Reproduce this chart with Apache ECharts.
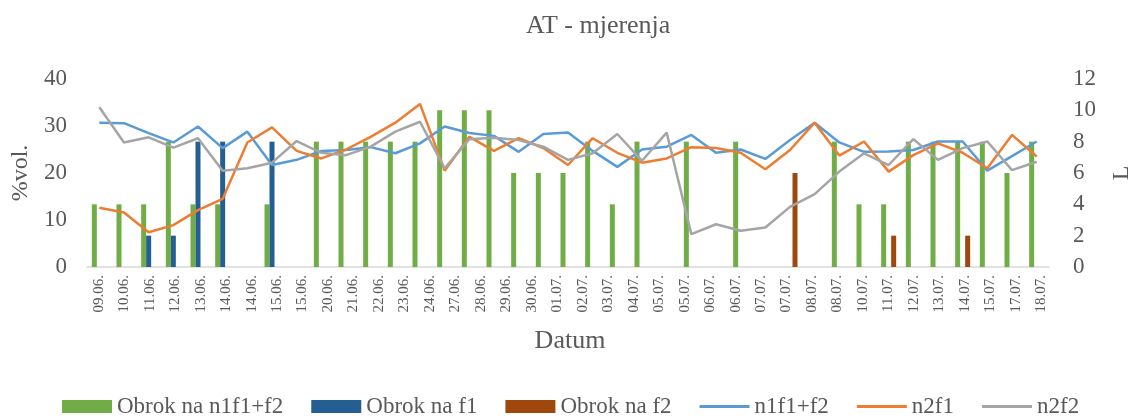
<!DOCTYPE html>
<html>
<head>
<meta charset="utf-8">
<title>AT - mjerenja</title>
<script src="https://cdn.jsdelivr.net/npm/echarts@6/dist/echarts.min.js"></script>
<style>
  html, body { margin: 0; padding: 0; background: #ffffff; }
  #chart { width: 1142px; height: 419px; }
</style>
</head>
<body>
<div id="chart"></div>
<script>
// tick labels printed under the axis (38 of them)
const dateLabels = [
  "09.06.", "10.06.", "11.06.", "12.06.", "13.06.", "14.06.", "14.06.", "15.06.", "15.06.",
  "20.06.", "21.06.", "22.06.", "23.06.", "24.06.", "27.06.", "28.06.", "29.06.", "30.06.",
  "01.07.", "02.07.", "03.07.", "04.07.", "05.07.", "05.07.", "06.07.", "06.07.", "07.07.",
  "07.07.", "08.07.", "08.07.", "10.07.", "11.07.", "12.07.", "13.07.", "14.07.", "15.07.",
  "17.07.", "18.07."
];

// measurement slots actually plotted (39 points)
const slots = [
  "1", "2", "3", "4", "5", "6", "7", "8", "9", "10", "11", "12", "13",
  "14", "15", "16", "17", "18", "19", "20", "21", "22", "23", "24", "25", "26",
  "27", "28", "29", "30", "31", "32", "33", "34", "35", "36", "37", "38", "39"
];

// bars, litres (right axis)
const obrokN1f1f2 = [4, 4, 4, 8, 4, 4, null, 4, null, 8, 8, 8, 8, 8, 10, 10, 10, 6, 6, 6,
  8, 4, 8, null, 8, null, 8, null, null, null, 8, 4, 4, 8, 8, 8, 8, 6, 8];
const obrokF1 = [null, null, 2, 2, 8, 8, null, 8, null, null, null, null, null, null, null, null, null, null, null, null,
  null, null, null, null, null, null, null, null, null, null, null, null, null, null, null, null, null, null, null];
const obrokF2 = [null, null, null, null, null, null, null, null, null, null, null, null, null, null, null, null, null, null, null, null,
  null, null, null, null, null, null, null, null, 6, null, null, null, 2, null, null, 2, null, null, null];

// lines, %vol. (left axis)
const n1f1f2 = [30.7, 30.6, 28.5, 26.5, 29.9, 25.3, 28.8, 21.7, 22.8, 24.7, 24.9, 25.5, 24.2,
  26.3, 29.9, 28.5, 27.9, 24.5, 28.3, 28.6, 24.7, 21.3, 25.0, 25.6, 28.1, 24.3,
  25.0, 23.0, 27.0, 30.7, 26.5, 24.5, 24.6, 24.9, 26.7, 26.7, 20.5, 23.6, 26.7];
const n2f1 = [12.6, 11.6, 7.4, 8.9, 12.1, 14.5, 26.5, 29.7, 24.7, 23.1, 25.0, 27.7, 30.7,
  34.7, 20.5, 27.7, 24.7, 27.4, 25.3, 21.7, 27.4, 24.3, 22.2, 23.1, 25.5, 25.3,
  24.3, 20.8, 24.9, 30.7, 23.7, 26.7, 20.3, 23.8, 26.3, 24.3, 21.0, 28.1, 23.5];
const n2f2 = [34.0, 26.5, 27.6, 25.4, 27.4, 20.5, 21.0, 22.2, 26.8, 24.3, 23.8, 25.6, 28.8,
  30.9, 21.0, 27.2, 27.5, 27.0, 25.6, 22.8, 24.2, 28.3, 22.6, 28.6, 7.0, 9.1,
  7.7, 8.4, 12.8, 15.5, 20.3, 24.2, 21.7, 27.2, 22.8, 25.3, 26.7, 20.6, 22.4];

const font = "Liberation Serif";
const textGrey = "#595959";
// thin bar used as legend icon for the line series
const lineIcon = "path://M0,0L50,0L50,3L0,3Z";

const chart = echarts.init(document.getElementById("chart"));

function barSeries(name, data, color) {
  return {
    name: name,
    type: "bar",
    xAxisIndex: 0,
    yAxisIndex: 1,
    barWidth: 5,
    barGap: "0%",
    itemStyle: { color: color },
    data: data
  };
}

function lineSeries(name, data, color) {
  return {
    name: name,
    type: "line",
    xAxisIndex: 0,
    yAxisIndex: 0,
    symbol: "none",
    lineStyle: { color: color, width: 2.5 },
    itemStyle: { color: color },
    data: data
  };
}

chart.setOption({
  animation: false,
  title: {
    text: "AT - mjerenja",
    left: 521,
    top: 8,
    textStyle: { fontFamily: font, fontSize: 26, fontWeight: "normal", color: textGrey }
  },
  legend: {
    left: 57,
    top: 390,
    itemWidth: 50,
    itemHeight: 13,
    itemGap: 28,
    symbolKeepAspect: true,
    textStyle: { fontFamily: font, fontSize: 23, color: textGrey },
    data: [
      { name: "Obrok na n1f1+f2", icon: "rect" },
      { name: "Obrok na f1", icon: "rect" },
      { name: "Obrok na f2", icon: "rect" },
      { name: "n1f1+f2", icon: lineIcon },
      { name: "n2f1", icon: lineIcon },
      { name: "n2f2", icon: lineIcon }
    ]
  },
  grid: [
    { left: 87, right: 83, top: 79, bottom: 152 },
    { left: 86, right: 88, top: 79, bottom: 152 }
  ],
  xAxis: [
    {
      type: "category",
      gridIndex: 0,
      data: slots,
      axisLine: { lineStyle: { color: "#d9d9d9", width: 1.5 } },
      axisTick: { show: false },
      axisLabel: { show: false }
    },
    {
      type: "category",
      gridIndex: 1,
      data: dateLabels,
      axisLine: { show: false },
      axisTick: { show: false },
      axisLabel: {
        rotate: 90,
        margin: 8,
        fontFamily: font,
        fontSize: 15,
        color: textGrey
      },
      name: "Datum",
      nameLocation: "middle",
      nameGap: 61,
      nameTextStyle: { fontFamily: font, fontSize: 26, color: textGrey }
    }
  ],
  yAxis: [
    {
      type: "value",
      gridIndex: 0,
      position: "left",
      min: 0,
      max: 40,
      interval: 10,
      name: "%vol.",
      nameLocation: "middle",
      nameRotate: 90,
      nameGap: 54,
      nameTextStyle: { fontFamily: font, fontSize: 24, color: textGrey },
      axisLine: { show: false },
      axisTick: { show: false },
      splitLine: { show: false },
      axisLabel: { margin: 20, fontFamily: font, fontSize: 23, color: textGrey }
    },
    {
      type: "value",
      gridIndex: 0,
      position: "right",
      min: 0,
      max: 12,
      interval: 2,
      name: "L",
      nameLocation: "middle",
      nameRotate: 90,
      nameGap: 61,
      nameTextStyle: { fontFamily: font, fontSize: 24, color: textGrey },
      axisLine: { show: false },
      axisTick: { show: false },
      splitLine: { show: false },
      axisLabel: { margin: 24, fontFamily: font, fontSize: 23, color: textGrey }
    },
    { type: "value", gridIndex: 1, show: false }
  ],
  series: [
    barSeries("Obrok na n1f1+f2", obrokN1f1f2, "#70ad47"),
    barSeries("Obrok na f1", obrokF1, "#255e91"),
    barSeries("Obrok na f2", obrokF2, "#9e480e"),
    lineSeries("n1f1+f2", n1f1f2, "#5b9bd5"),
    lineSeries("n2f1", n2f1, "#ed7d31"),
    lineSeries("n2f2", n2f2, "#a5a5a5")
  ]
});
</script>
</body>
</html>
